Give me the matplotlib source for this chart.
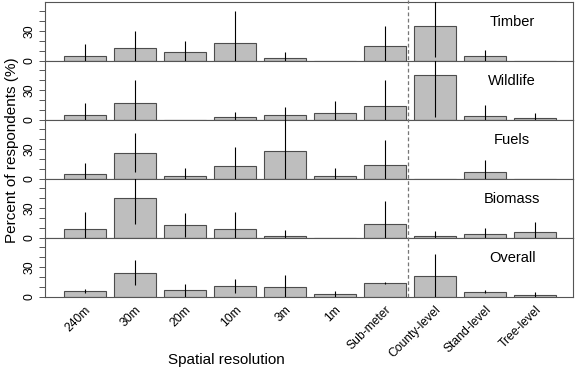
import matplotlib
matplotlib.use("Agg")
import matplotlib.pyplot as plt
import numpy as np

plt.rcParams['font.family'] = ['Liberation Sans', 'DejaVu Sans']

# categories on the x axis
categories = ["240m", "30m", "20m", "10m", "3m", "1m", "Sub-meter",
              "County-level", "Stand-level", "Tree-level"]
panels = ["Timber", "Wildlife", "Fuels", "Biomass", "Overall"]

# percent of respondents per panel
timber = [5.0, 13.3, 9.3, 18.3, 2.7, 0.0, 15.0, 34.7, 4.7, 0.0]
wildlife = [5.0, 16.7, 0.0, 3.0, 5.3, 7.3, 13.7, 45.0, 4.3, 2.3]
fuels = [4.7, 26.0, 3.3, 12.7, 28.0, 3.3, 14.3, 0.0, 7.3, 0.0]
biomass = [9.0, 40.3, 13.0, 9.0, 2.0, 0.0, 13.7, 1.7, 3.7, 6.0]
overall = [6.3, 24.3, 6.7, 10.7, 9.7, 2.7, 14.3, 20.7, 5.3, 2.0]

# error bar ends (low, high)
timber_lo = [0, 0, 0, 0, 0, 0, 0, 3.7, 0, 0]
timber_hi = [17.0, 30.0, 19.7, 49.7, 8.7, 0, 35.0, 70.0, 10.7, 0]
wildlife_lo = [0, 0, 0, 0, 0, 0, 0, 3.3, 0, 0]
wildlife_hi = [16.7, 39.7, 0, 8.3, 13.3, 18.7, 40.0, 70.0, 14.7, 7.3]
fuels_lo = [0, 6.7, 0, 0, 0, 0, 0, 0, 0, 0]
fuels_hi = [16.3, 45.7, 11.3, 32.3, 70.0, 11.3, 39.0, 0, 19.0, 0]
biomass_lo = [0, 13.7, 1.0, 0, 0, 0, 0, 0, 0, 0]
biomass_hi = [26.0, 70.0, 24.7, 26.0, 8.0, 0, 37.0, 7.0, 9.7, 15.7]
overall_lo = [4.3, 11.7, 0, 4.3, 0, 0, 13.3, 0, 3.7, 0]
overall_hi = [8.3, 36.7, 12.7, 17.7, 22.0, 6.0, 15.3, 43.3, 7.3, 5.3]

values = [timber, wildlife, fuels, biomass, overall]
lows = [timber_lo, wildlife_lo, fuels_lo, biomass_lo, overall_lo]
highs = [timber_hi, wildlife_hi, fuels_hi, biomass_hi, overall_hi]

W, H = 575, 373
fig = plt.figure(figsize=(W / 100, H / 100), dpi=100)

x = np.arange(len(categories))
left, right = 45, 573
top0, ph = 2, 59
xlim = (-0.8, 9.76)
frame_col = "#555555"

axes = []
for i, name in enumerate(panels):
    bottom = H - (top0 + ph * (i + 1))
    ax = fig.add_axes([left / W, bottom / H, (right - left) / W, ph / H])
    ax.bar(x, values[i], width=0.84, color="#BEBEBE", edgecolor="#4d4d4d",
           linewidth=0.8, zorder=2)
    has = [h > 0 for h in highs[i]]
    ax.vlines(x[has], np.array(lows[i])[has], np.array(highs[i])[has],
              color="black", linewidth=0.8, zorder=3)
    ax.set_xlim(xlim)
    ax.set_ylim(0, 59)
    ax.set_yticks([0, 10, 20, 30, 40, 50])
    ax.set_yticklabels(["0", "", "", "30", "", ""], rotation=90, va="center")
    ax.tick_params(axis="y", length=4, width=0.7, color=frame_col,
                   labelsize=8.7, pad=3)
    for s in ax.spines.values():
        s.set_color(frame_col)
        s.set_linewidth(0.8)
    ax.text(0.885, 0.66, name, transform=ax.transAxes, ha="center",
            va="center", fontsize=10.5)
    if i < len(panels) - 1:
        ax.set_xticks([])
    else:
        ax.set_xticks(x)
        ax.set_xticklabels(categories, rotation=45, ha="right",
                           rotation_mode="anchor", fontsize=8.7)
        ax.tick_params(axis="x", length=0, pad=5)
    axes.append(ax)

# dashed separator across all panels
over = fig.add_axes([left / W, (H - 297) / H, (right - left) / W, 297 / H])
over.set_xlim(xlim)
over.set_ylim(0, 1)
over.axis("off")
over.axvline(6.46, color="#777777", linestyle=(0, (3, 2)), linewidth=0.9)

fig.text(12 / W, 1 - 150 / H, "Percent of respondents (%)", rotation=90,
         ha="center", va="center", fontsize=11)
fig.text(226 / W, 1 - 360 / H, "Spatial resolution", ha="center",
         va="center", fontsize=11)

fig.savefig("out.png", dpi=100)
